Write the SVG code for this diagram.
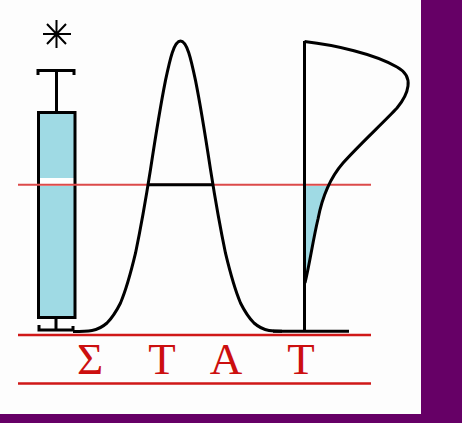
<svg xmlns="http://www.w3.org/2000/svg" width="462" height="423" viewBox="0 0 462 423">
<style>
.k{fill:none;stroke:#000;stroke-width:3}
.s{fill:none;stroke:#000;stroke-width:2}
.r{fill:none;stroke:#d01818;stroke-width:2.500}
.f{fill:none;stroke:#dc4a4a;stroke-width:2}
.t{font-family:"Liberation Serif",serif;font-size:45px;fill:#cc0f0f;text-anchor:middle}
</style>
<rect width="462" height="423" fill="#660066"/>
<rect width="421" height="414" fill="#fdfdfd"/>
<g id="syringe">
<rect x="38.500" y="112.500" width="36.500" height="205" fill="#9fdae4"/>
<rect x="38.500" y="178" width="36.500" height="8" fill="#fff"/>
<rect x="38.500" y="112.500" width="36.500" height="205" class="k"/>
<path class="k" d="M38 75V70.500H74V75M56.500 70.500V112M39 325V330H73V326M56 318V330"/>
<path class="s" d="M56.500 20V48M43 34H71M47 24L66 44M66 24L47 44"/>
</g>
<g id="lines">
<path class="f" d="M18 184.800H371"/>
<path class="r" d="M18 335H371M18 383.500H371"/>
</g>
<g id="gauss">
<path class="k" stroke-linejoin="round" d="M73 331.500C80 331.500 86 331.500 92 330.500C98 329.500 103 326.500 107 323C113 317 117 310 120.500 303C126 290 131 272 135.500 253.200C142 222 146 198 150.500 169.500C155 140 160 108 165.500 80.400C170 59 174 41 180.500 41C187 41 191 59 195.500 80.400C201 108 206 140 210.500 169.500C215 198 219 222 225.500 253.200C230 272 235 290 240.500 303C244 310 248 317 254 323C258 326.500 263 329.500 269 330.500C274 331.300 278 331.300 282 331.300"/>
<path class="k" d="M148 184.800H213"/>
</g>
<g id="tail">
<path d="M305 186H330C324 198 320 208 318 219C313 240 310 262 306 280Z" fill="#9fdae4"/>
<path class="k" d="M304.500 41V331M273 331.300H349"/>
<path class="k" d="M304.500 41.500C335 45 375 54 397 67C406 72 409 79 408 86C407 94 402 102 397 108C385 121 358 146 343 163C330 178 322 198 318 219C313 240 310 262 305 283"/>
</g>
<g id="label">
<text class="t" x="90" y="374">Σ</text>
<text class="t" x="162" y="374">T</text>
<text class="t" x="226" y="374">A</text>
<text class="t" x="301" y="374">T</text>
</g>
</svg>
